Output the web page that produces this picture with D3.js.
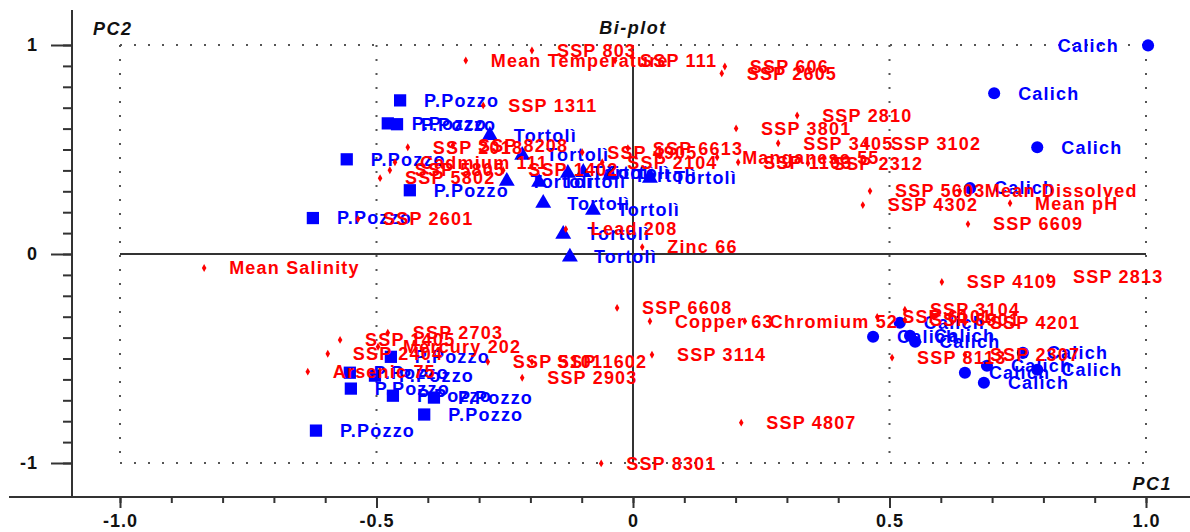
<!DOCTYPE html>
<html>
<head>
<meta charset="utf-8">
<script src="https://cdn.jsdelivr.net/npm/d3@7"></script>
<style>
body, html { margin: 0; padding: 0; background: #fff; }
svg { display: block; font-family: "Liberation Sans", Arial, sans-serif; }
.lbl { font-size: 18px; font-weight: bold; letter-spacing: 1.2px; }
.tick text { font-size: 18px; font-weight: bold; letter-spacing: 1px; fill: #111; }
.tick line { stroke: #333; stroke-width: 2; }
.ttl { font-size: 18px; font-weight: bold; font-style: italic; letter-spacing: 1.5px; fill: #111; }
</style>
</head>
<body>
<div id="chart"></div>
<script>
// variable / sample loadings (red)
var varLabels = ["SSP 803","Mean Temperature","SSP 111","SSP 606","SSP 2605","SSP 1311","SSP 2810","SSP 3801",
  "SSP 3405","SSP 3102","Manganese 55","SSP 1103","SSP 2312","SSP 6613","SSP 5603","Mean Dissolved",
  "SSP 4302","Mean pH","SSP 6609","SSP 2601","Lead 208","Zinc 66","Mean Salinity","SSP 4109",
  "SSP 2813","SSP 6608","Copper 63","Chromium 52","SSP 3104","SSP 6101","SSP 8901","SSP 4201",
  "SSP 8113","SSP 2307","SSP 3114","SSP 4807","SSP 8301","SSP 2903","SSP 5101","SSP 1602",
  "SSP 2703","SSP 1405","Mercury 202","SSP 2404","Arsenic 75","SSP 2018","SSP 8208","Cadmium 111",
  "SSP 1402","SSP 2104","SSP 4905","SSP 5802","SSP 5805"];
var varPC1 = [-0.197,-0.326,-0.035,0.179,0.173,-0.292,0.320,0.201,
  0.283,0.454,0.164,0.205,0.341,-0.010,0.462,0.637,
  0.448,0.735,0.653,-0.536,-0.131,0.018,-0.836,0.602,
  0.809,-0.031,0.033,0.218,0.530,0.476,0.530,0.647,
  0.505,0.647,0.037,0.211,-0.062,-0.216,-0.283,-0.197,
  -0.478,-0.571,-0.497,-0.595,-0.634,-0.439,-0.351,-0.464,
  -0.253,-0.060,-0.099,-0.493,-0.474];
var varPC2 = [0.974,0.926,0.926,0.897,0.864,0.711,0.663,0.601,
  0.530,0.530,0.463,0.439,0.434,0.506,0.301,0.301,
  0.234,0.243,0.143,0.167,0.119,0.033,-0.067,-0.134,
  -0.110,-0.258,-0.322,-0.322,-0.267,-0.301,-0.315,-0.329,
  -0.496,-0.482,-0.482,-0.807,-1.002,-0.592,-0.516,-0.516,
  -0.377,-0.411,-0.444,-0.477,-0.563,0.511,0.520,0.439,
  0.401,0.439,0.487,0.363,0.401];

// site scores (blue)
var pozzoPC1 = [-0.454,-0.478,-0.460,-0.558,-0.435,-0.624,-0.472,-0.552,-0.503,-0.550,-0.468,-0.388,-0.407,-0.618];
var pozzoPC2 = [0.735,0.625,0.621,0.453,0.305,0.172,-0.492,-0.568,-0.582,-0.644,-0.678,-0.687,-0.768,-0.845];
var tortoliPC1 = [-0.279,-0.216,-0.246,-0.183,-0.127,-0.097,0.033,-0.175,-0.078,-0.136,-0.123,-0.045];
var tortoliPC2 = [0.568,0.473,0.348,0.344,0.387,0.391,0.363,0.243,0.210,0.095,-0.014,0.377];
var calichPC1 = [1.004,0.704,0.788,0.657,0.468,0.520,0.550,0.540,0.647,0.690,0.684,0.788,0.760];
var calichPC2 = [0.998,0.769,0.511,0.315,-0.396,-0.329,-0.420,-0.391,-0.568,-0.535,-0.616,-0.554,-0.473];

var sites = [
  {name: "P.Pozzo", shape: d3.symbolSquare, size: 150, xs: pozzoPC1, ys: pozzoPC2},
  {name: "Tortolì", shape: d3.symbolTriangle, size: 110, xs: tortoliPC1, ys: tortoliPC2},
  {name: "Calich", shape: d3.symbolCircle, size: 115, xs: calichPC1, ys: calichPC2}
];

var xTicks = [-1.0, -0.5, 0, 0.5, 1.0];
var xTickLabels = ["-1.0", "-0.5", "0", "0.5", "1.0"];
var yTicks = [-1, 0, 1];
var yTickLabels = ["-1", "0", "1"];

var width = 1190, height = 532;
var red = "#ff0000", blue = "#0000ff";

var svg = d3.select("#chart").append("svg")
  .attr("width", width)
  .attr("height", height);
svg.append("rect").attr("width", width).attr("height", height).attr("fill", "#fff");

var x = d3.scaleLinear().domain([-1, 1]).range([120, 1146]);
var y = d3.scaleLinear().domain([-1, 1]).range([463, 45]);

var axisY = 497, axisX = 72;

// dotted frame lines
var grid = svg.append("g").attr("stroke", "#555").attr("stroke-width", 2).attr("stroke-dasharray", "2,12");
[-1, -0.5, 0.5, 1].forEach(function(v) {
  grid.append("line").attr("x1", x(v)).attr("x2", x(v)).attr("y1", y(1)).attr("y2", y(-1));
});
[1, -1].forEach(function(v) {
  grid.append("line").attr("x1", x(-1)).attr("x2", x(1)).attr("y1", y(v)).attr("y2", y(v));
});

// solid zero lines
svg.append("line").attr("x1", x(0)).attr("x2", x(0)).attr("y1", y(1)).attr("y2", y(-1))
  .attr("stroke", "#333").attr("stroke-width", 2);
svg.append("line").attr("x1", x(-1)).attr("x2", x(1)).attr("y1", y(0)).attr("y2", y(0))
  .attr("stroke", "#333").attr("stroke-width", 2);

// axes
var minor = d3.range(-10, 11).map(function(d) { return d / 10; });

svg.append("g").attr("transform", "translate(0," + axisY + ")")
  .call(d3.axisBottom(x).tickValues(minor).tickSize(6).tickFormat(""))
  .call(function(g) { g.select(".domain").remove(); });
svg.append("g").attr("transform", "translate(0," + axisY + ")")
  .call(d3.axisBottom(x).tickValues(xTicks).tickSize(11).tickPadding(6)
    .tickFormat(function(d, i) { return xTickLabels[i]; }))
  .call(function(g) { g.select(".domain").remove(); });

svg.append("g").attr("transform", "translate(" + axisX + ",0)")
  .call(d3.axisLeft(y).tickValues(minor).tickSize(9).tickFormat(""))
  .call(function(g) { g.select(".domain").remove(); });
svg.append("g").attr("transform", "translate(" + axisX + ",0)")
  .call(d3.axisLeft(y).tickValues(yTicks).tickSize(21).tickPadding(13)
    .tickFormat(function(d, i) { return yTickLabels[i]; }))
  .call(function(g) { g.select(".domain").remove(); });

svg.append("line").attr("x1", 9).attr("x2", width).attr("y1", axisY).attr("y2", axisY)
  .attr("stroke", "#333").attr("stroke-width", 2);
svg.append("line").attr("x1", axisX).attr("x2", axisX).attr("y1", 10).attr("y2", axisY)
  .attr("stroke", "#333").attr("stroke-width", 2);

// titles
svg.append("text").attr("class", "ttl").attr("x", 633).attr("y", 34).attr("text-anchor", "middle").text("Bi-plot");
svg.append("text").attr("class", "ttl").attr("x", 93).attr("y", 35).text("PC2");
svg.append("text").attr("class", "ttl").attr("x", 1172).attr("y", 490).attr("text-anchor", "end").text("PC1");

// site markers and labels (blue)
sites.forEach(function(s) {
  var g = svg.append("g");
  var pts = s.xs.map(function(v, i) { return [v, s.ys[i]]; });
  g.selectAll("path").data(pts).enter().append("path")
    .attr("d", d3.symbol().type(s.shape).size(s.size))
    .attr("transform", function(d) { return "translate(" + x(d[0]) + "," + y(d[1]) + ")"; })
    .attr("fill", blue);
  g.selectAll("text").data(pts).enter().append("text")
    .attr("class", "lbl")
    .attr("fill", blue)
    .attr("x", function(d) { return d[0] > 0.95 ? x(d[0]) - 29 : x(d[0]) + 24; })
    .attr("y", function(d) { return y(d[1]); })
    .attr("dy", "0.35em")
    .attr("text-anchor", function(d) { return d[0] > 0.95 ? "end" : "start"; })
    .text(s.name);
});

// variable dots and labels (red)
var vars = varLabels.map(function(l, i) { return {label: l, pc1: varPC1[i], pc2: varPC2[i]}; });
var vg = svg.append("g");
vg.selectAll("path").data(vars).enter().append("path")
  .attr("d", d3.symbol().type(d3.symbolDiamond).size(18))
  .attr("transform", function(d) { return "translate(" + x(d.pc1) + "," + y(d.pc2) + ")"; })
  .attr("fill", red);
vg.selectAll("text").data(vars).enter().append("text")
  .attr("class", "lbl")
  .attr("fill", red)
  .attr("x", function(d) { return x(d.pc1) + 25; })
  .attr("y", function(d) { return y(d.pc2); })
  .attr("dy", "0.35em")
  .text(function(d) { return d.label; });
</script>
</body>
</html>
